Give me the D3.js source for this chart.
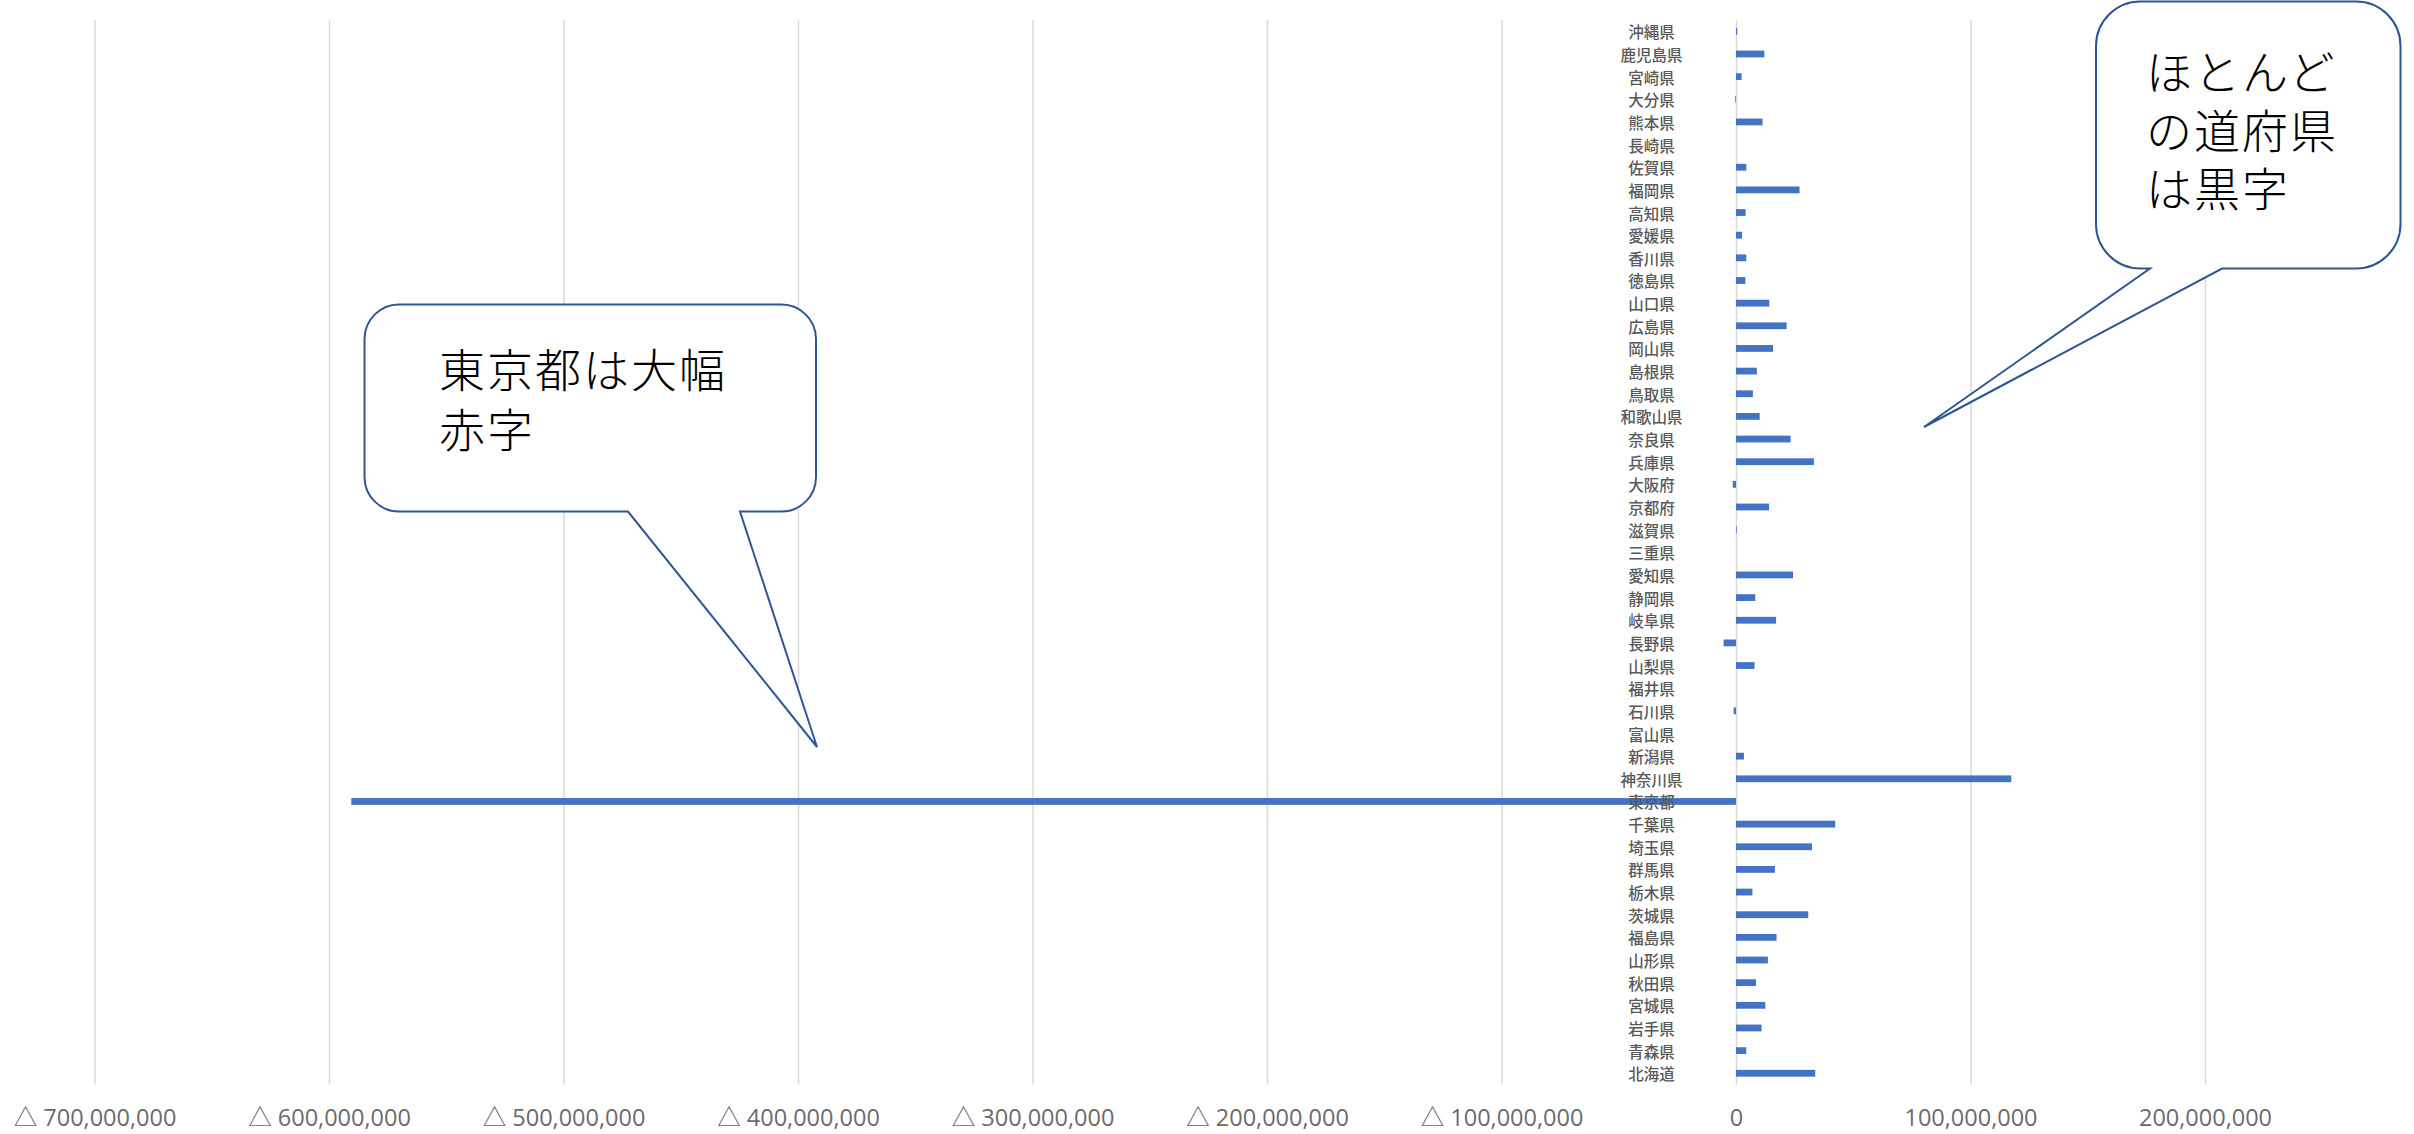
<!DOCTYPE html>
<html>
<head>
<meta charset="utf-8">
<script src="https://cdn.jsdelivr.net/npm/d3@7"></script>
<style>
  html, body { margin: 0; padding: 0; background: #ffffff; }
  svg { display: block; }
</style>
</head>
<body>
<svg id="chart" width="2414" height="1134"></svg>
<script>
// ---------------- DATA ----------------
const prefectures = ["北海道","青森県","岩手県","宮城県","秋田県","山形県","福島県","茨城県","栃木県","群馬県",
  "埼玉県","千葉県","東京都","神奈川県","新潟県","富山県","石川県","福井県","山梨県","長野県",
  "岐阜県","静岡県","愛知県","三重県","滋賀県","京都府","大阪府","兵庫県","奈良県","和歌山県",
  "鳥取県","島根県","岡山県","広島県","山口県","徳島県","香川県","愛媛県","高知県","福岡県",
  "佐賀県","長崎県","熊本県","大分県","宮崎県","鹿児島県","沖縄県"];
const balance = [33800000, 4400000, 10900000, 12500000, 8500000, 13600000, 17300000, 30800000, 7000000, 16600000,
  32400000, 42300000, -590500000, 117400000, 3400000, 0, -1000000, 0, 7900000, -5300000,
  17100000, 8200000, 24300000, 0, 300000, 14100000, -1400000, 33200000, 23300000, 10100000,
  7200000, 8900000, 15800000, 21600000, 14200000, 4000000, 4400000, 2600000, 4100000, 27100000,
  4400000, 0, 11300000, -300000, 2400000, 12100000, 500000];
const tickValues = [-700000000, -600000000, -500000000, -400000000, -300000000, -200000000, -100000000, 0, 100000000, 200000000];
const tickLabels = ["△ 700,000,000","△ 600,000,000","△ 500,000,000","△ 400,000,000","△ 300,000,000",
  "△ 200,000,000","△ 100,000,000","0","100,000,000","200,000,000"];
const calloutLeftLines = ["東京都は大幅", "赤字"];
const calloutRightLines = ["ほとんど", "の道府県", "は黒字"];

// ---------------- LAYOUT ----------------
const svg = d3.select("#chart");
const plotTop = 20, plotBottom = 1084.6;
const x = d3.scaleLinear().domain([-700000000, 300000000]).range([94.5, 2439.5]);
// Excel draws the first category at the bottom
const y = d3.scaleBand()
  .domain(prefectures.slice().reverse())
  .range([plotTop, plotBottom])
  .paddingInner(0.7)
  .paddingOuter(0.35);

const data = prefectures.map((p, i) => ({ name: p, value: balance[i] }));

// gridlines
svg.append("g")
  .attr("transform", `translate(0,${plotBottom})`)
  .call(d3.axisBottom(x).tickValues(tickValues).tickSize(-(plotBottom - plotTop)).tickFormat(""))
  .call(g => g.select(".domain").remove())
  .call(g => g.selectAll(".tick line").attr("stroke", "#D9D9D9").attr("stroke-width", 1.5));

// bars
svg.append("g")
  .selectAll("rect")
  .data(data)
  .join("rect")
  .attr("x", d => x(Math.min(0, d.value)))
  .attr("width", d => Math.abs(x(d.value) - x(0)))
  .attr("y", d => y(d.name))
  .attr("height", y.bandwidth())
  .attr("fill", "#4472C4");

// category labels (centered, left of the zero axis)
svg.append("g")
  .selectAll("text")
  .data(data)
  .join("text")
  .attr("x", x(0) - 84.5)
  .attr("y", d => y(d.name) + y.bandwidth() / 2)
  .attr("text-anchor", "middle")
  .attr("dominant-baseline", "central")
  .attr("font-family", "'Noto Sans CJK JP', sans-serif")
  .attr("font-size", 15.5)
  .attr("font-weight", 500)
  .attr("fill", "#595959")
  .text(d => d.name);

// value axis labels
svg.append("g")
  .attr("transform", `translate(0,${plotBottom})`)
  .call(d3.axisBottom(x).tickValues(tickValues).tickSize(0).tickPadding(25)
    .tickFormat((d, i) => tickLabels[i]))
  .call(g => g.select(".domain").remove())
  .call(g => g.selectAll(".tick text")
    .attr("font-family", "'Open Sans', 'Noto Sans CJK JP', sans-serif")
    .attr("font-size", 23.5)
    .attr("fill", "#6b6b6b"));

// ---------------- CALLOUTS ----------------
function calloutPath(x0, y0, x1, y1, r, baseL, baseR, tipX, tipY) {
  const p = d3.path();
  p.moveTo(x0 + r, y0);
  p.lineTo(x1 - r, y0);
  p.arcTo(x1, y0, x1, y0 + r, r);
  p.lineTo(x1, y1 - r);
  p.arcTo(x1, y1, x1 - r, y1, r);
  p.lineTo(baseR, y1);
  p.lineTo(tipX, tipY);
  p.lineTo(baseL, y1);
  p.lineTo(x0 + r, y1);
  p.arcTo(x0, y1, x0, y1 - r, r);
  p.lineTo(x0, y0 + r);
  p.arcTo(x0, y0, x0 + r, y0, r);
  p.closePath();
  return p.toString();
}

const calloutStyle = sel => sel.attr("fill", "#ffffff").attr("stroke", "#2F5597").attr("stroke-width", 2);

svg.append("path")
  .attr("d", calloutPath(364.5, 304.5, 816, 511.5, 34.5, 628, 740, 817, 747))
  .call(calloutStyle);

svg.append("path")
  .attr("d", calloutPath(2096, 1.5, 2400.5, 268.5, 44.5, 2150, 2222, 1924, 427))
  .call(calloutStyle);

const textStyle = sel => sel
  .attr("font-family", "'Noto Sans CJK JP', sans-serif")
  .attr("font-size", 46)
  .attr("font-weight", 300)
  .attr("letter-spacing", 2)
  .attr("fill", "#000000");

svg.append("g").selectAll("text")
  .data(calloutLeftLines)
  .join("text")
  .attr("x", 439)
  .attr("y", (d, i) => 387 + i * 60)
  .call(textStyle)
  .text(d => d);

svg.append("g").selectAll("text")
  .data(calloutRightLines)
  .join("text")
  .attr("x", 2146)
  .attr("y", (d, i) => 89 + i * 58.5)
  .call(textStyle)
  .text(d => d);
</script>
</body>
</html>
